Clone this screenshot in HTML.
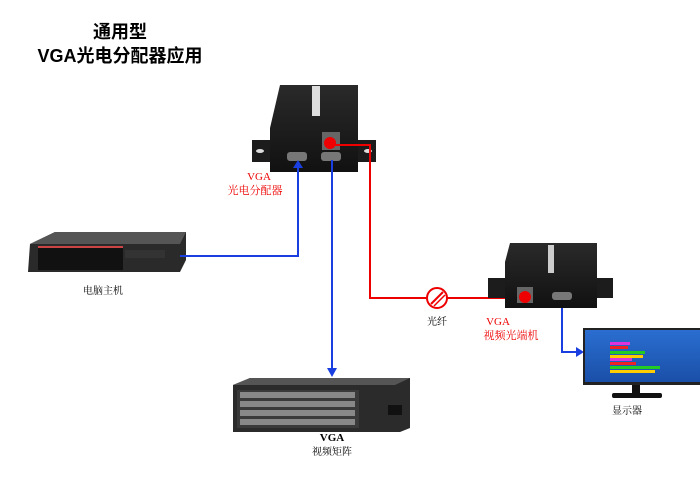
<!DOCTYPE html>
<html><head><meta charset="utf-8"><style>
body{margin:0;background:#fff;}
svg{display:block;font-family:"Liberation Serif","Noto Serif CJK SC",serif;}
</style></head><body>
<svg width="700" height="495" viewBox="0 0 700 495" xmlns="http://www.w3.org/2000/svg">
<defs>
<linearGradient id="box" x1="0" y1="0" x2="0" y2="1"><stop offset="0" stop-color="#2a2a2a"/><stop offset="1" stop-color="#111"/></linearGradient>
<linearGradient id="scr" x1="0" y1="0" x2="0" y2="1"><stop offset="0" stop-color="#2a6ed0"/><stop offset="1" stop-color="#1a4fa8"/></linearGradient>
</defs>
<text x="120" y="38" font-family="Liberation Sans,Noto Sans CJK SC,sans-serif" font-size="18" font-weight="bold" text-anchor="middle">通用型</text>
<text x="120" y="62" font-family="Liberation Sans,Noto Sans CJK SC,sans-serif" font-size="18" font-weight="bold" text-anchor="middle">VGA光电分配器应用</text>

<!-- splitter -->
<rect x="252" y="140" width="124" height="22" fill="#1c1c1c"/>
<ellipse cx="260" cy="151" rx="4" ry="2" fill="#ddd"/><ellipse cx="368" cy="151" rx="4" ry="2" fill="#ddd"/>
<path d="M280 85 L358 85 L358 172 L270 172 L270 128 Z" fill="url(#box)"/>
<rect x="312" y="86" width="8" height="30" fill="#ddd"/>
<rect x="322" y="132" width="18" height="18" fill="#666"/>
<circle cx="330" cy="143" r="6" fill="#e00"/>
<rect x="287" y="152" width="20" height="9" rx="3" fill="#777"/>
<rect x="321" y="152" width="20" height="9" rx="3" fill="#777"/>

<!-- server -->
<path d="M30 244 L55 232 L186 232 L186 260 L180 272 L28 272 Z" fill="#2a2a2a"/>
<path d="M30 244 L55 232 L186 232 L180 244 Z" fill="#555"/>
<rect x="38" y="248" width="85" height="22" fill="#111"/>
<rect x="38" y="246" width="85" height="2" fill="#c44"/>
<rect x="125" y="250" width="40" height="8" fill="#333"/>
<text x="103" y="294" font-size="10" text-anchor="middle">电脑主机</text>

<!-- lines -->
<polyline points="180,256 298,256 298,168" fill="none" stroke="#1a3fe0" stroke-width="2"/>
<polygon points="293,168 303,168 298,160" fill="#1a3fe0"/>
<line x1="332" y1="160" x2="332" y2="368" stroke="#1a3fe0" stroke-width="2"/>
<polygon points="327,368 337,368 332,377" fill="#1a3fe0"/>
<polyline points="333,145 370,145 370,298 522,298" fill="none" stroke="#e00" stroke-width="2"/>
<circle cx="437" cy="298" r="10" fill="#fff" stroke="#e00" stroke-width="2"/>
<line x1="431" y1="304" x2="443" y2="292" stroke="#e00" stroke-width="2"/>
<line x1="434" y1="306" x2="445" y2="295" stroke="#e00" stroke-width="1.5"/>
<polyline points="562,300 562,352 576,352" fill="none" stroke="#1a3fe0" stroke-width="2"/>
<polygon points="576,347 576,357 584,352" fill="#1a3fe0"/>

<text x="259" y="180" font-size="11" fill="#e00" text-anchor="middle">VGA</text>
<text x="255" y="194" font-size="11" fill="#e00" text-anchor="middle">光电分配器</text>
<text x="437" y="325" font-size="10" text-anchor="middle">光纤</text>
<text x="498" y="325" font-size="11" fill="#e00" text-anchor="middle">VGA</text>
<text x="511" y="339" font-size="11" fill="#e00" text-anchor="middle">视频光端机</text>

<!-- receiver -->
<rect x="488" y="278" width="125" height="20" fill="#1c1c1c"/>
<path d="M510 243 L597 243 L597 308 L505 308 L505 262 Z" fill="url(#box)"/>
<rect x="548" y="245" width="6" height="28" fill="#ccc"/>
<rect x="517" y="287" width="16" height="16" fill="#666"/>
<circle cx="525" cy="297" r="6" fill="#e00"/>
<rect x="552" y="292" width="20" height="8" rx="3" fill="#777"/>

<!-- monitor -->
<rect x="583" y="328" width="117" height="57" fill="#222"/>
<rect x="585" y="330" width="115" height="52" fill="url(#scr)"/>
<rect x="610" y="342" width="20" height="3" fill="#d3d"/>
<rect x="610" y="346" width="18" height="3" fill="#e22"/>
<rect x="610" y="351" width="35" height="3" fill="#2c2"/>
<rect x="610" y="355" width="33" height="3" fill="#fc0"/>
<rect x="610" y="358" width="22" height="3" fill="#d3d"/>
<rect x="610" y="362" width="26" height="3" fill="#e22"/>
<rect x="610" y="366" width="50" height="3" fill="#2c2"/>
<rect x="610" y="370" width="45" height="3" fill="#fc0"/>
<rect x="632" y="385" width="8" height="8" fill="#111"/>
<rect x="612" y="393" width="50" height="5" rx="2" fill="#111"/>
<text x="627" y="414" font-size="10" text-anchor="middle">显示器</text>

<!-- matrix -->
<path d="M233 385 L250 378 L410 378 L410 428 L400 432 L233 432 Z" fill="#2b2b2b"/>
<path d="M233 385 L250 378 L410 378 L395 385 Z" fill="#555"/>
<rect x="237" y="390" width="122" height="38" fill="#3a3a3a"/>
<g fill="#888">
<rect x="240" y="392" width="115" height="6"/><rect x="240" y="401" width="115" height="6"/>
<rect x="240" y="410" width="115" height="6"/><rect x="240" y="419" width="115" height="6"/>
</g>
<rect x="388" y="405" width="14" height="10" fill="#111"/>
<text x="332" y="441" font-size="11" font-weight="bold" text-anchor="middle">VGA</text>
<text x="332" y="455" font-size="10" text-anchor="middle">视频矩阵</text>
</svg>
</body></html>
